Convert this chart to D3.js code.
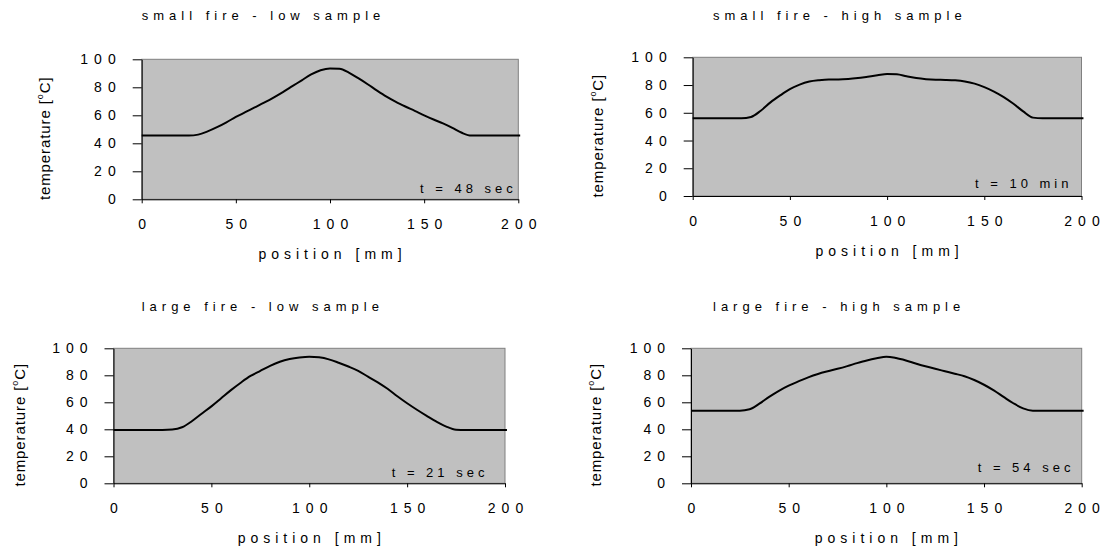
<!DOCTYPE html>
<html>
<head>
<meta charset="utf-8">
<script src="https://cdn.jsdelivr.net/npm/d3@7"></script>
<style>
    body { margin: 0; background: #fff; }
    svg text { font-family: Arial, "Liberation Sans", sans-serif; fill: #000; }
</style>
</head>
<body>
<svg id="chart" width="1101" height="552"></svg>
<script>
// positions along the sample [mm]
var positions = [0, 5, 10, 15, 20, 25, 30, 35, 40, 45, 50, 55, 60, 65, 70, 75, 80, 85, 90, 95, 100,
    105, 110, 115, 120, 125, 130, 135, 140, 145, 150, 155, 160, 165, 170, 175, 180, 185, 190, 195, 200, 201];

// temperatures [C], one value per position
var smallFireLow = [45.5, 45.5, 45.5, 45.5, 45.5, 45.5, 46.2, 48.5, 51.5, 55, 58.8, 62.2, 65.6, 69, 72.6, 76.6, 80.8, 85, 89.2, 92.2, 93.5,
    93.2, 90.5, 86.5, 82.2, 77.6, 73.3, 69.6, 66.3, 63.2, 60, 57, 54.2, 51, 47.5, 45.5, 45.5, 45.5, 45.5, 45.5, 45.5, 45.5];
var smallFireHigh = [56, 56, 56, 56, 56, 56, 57, 61.5, 67.5, 72.5, 77, 80.3, 82.5, 83.5, 84, 84, 84.3, 85, 86, 87, 88,
    87.7, 86.3, 85, 84.2, 83.8, 83.7, 83.4, 82.6, 81, 78.5, 75.3, 71.3, 66.5, 61, 56.5, 56, 56, 56, 56, 56, 56];
var largeFireLow = [39.5, 39.5, 39.5, 39.5, 39.5, 39.5, 39.8, 41.5, 46, 51.5, 57, 63, 69, 74.5, 79.5, 83.3, 87, 90, 92, 93.2, 93.8,
    93.3, 91.8, 89.3, 86.5, 83.3, 79, 74.8, 70, 64.5, 59.3, 54.5, 50, 45.7, 42, 39.7, 39.5, 39.5, 39.5, 39.5, 39.5, 39.5];
var largeFireHigh = [53.8, 53.8, 53.8, 53.8, 53.8, 53.8, 54.8, 59, 64, 68.5, 72.3, 75.5, 78.5, 81, 83, 84.8, 86.8, 89, 91, 92.6, 93.8,
    92.8, 91, 88.8, 86.7, 84.8, 83, 81.2, 79.3, 76.5, 73, 68.8, 64, 59.3, 55.5, 53.8, 53.8, 53.8, 53.8, 53.8, 53.8, 53.8];

var titles = ["small fire - low sample", "small fire - high sample", "large fire - low sample", "large fire - high sample"];
var timeLabels = ["t = 48 sec", "t = 10 min", "t = 21 sec", "t = 54 sec"];
var xTicks = [0, 50, 100, 150, 200];
var yTicks = [0, 20, 40, 60, 80, 100];

// layout of each panel (pixels)
var panels = [
    { title: titles[0], values: smallFireLow, time: timeLabels[0], left: 141.7, right: 518.3, top: 59.3, bottom: 199.3, titleX: 141.7, titleY: 20, labelX: 50, timeX: 420, timeY: 193 },
    { title: titles[1], values: smallFireHigh, time: timeLabels[1], left: 692.7, right: 1081.5, top: 57.3, bottom: 196, titleX: 713, titleY: 20, labelX: 603, timeX: 975, timeY: 188.3 },
    { title: titles[2], values: largeFireLow, time: timeLabels[2], left: 113.5, right: 505, top: 348.3, bottom: 483.3, titleX: 141.7, titleY: 311, labelX: 25, timeX: 391.7, timeY: 476.7 },
    { title: titles[3], values: largeFireHigh, time: timeLabels[3], left: 691, right: 1081.7, top: 348.3, bottom: 483.3, titleX: 713, titleY: 311, labelX: 601, timeX: 977.7, timeY: 471.7 }
];

var svg = d3.select("#chart");

// spread the letters like the original, but keep no gap after the last one
function spaced(textSel, ls) {
    textSel.each(function () {
        var t = d3.select(this);
        var s = t.text();
        t.text(null);
        t.append("tspan").attr("letter-spacing", ls).text(s.slice(0, -1));
        t.append("tspan").attr("letter-spacing", 0).text(s.slice(-1));
    });
}

function drawPanel(p) {
    var x = d3.scaleLinear().domain([0, 200]).range([p.left, p.right]);
    var y = d3.scaleLinear().domain([0, 100]).range([p.bottom, p.top]);
    var g = svg.append("g");

    // grey plot area, Excel style
    g.append("rect").attr("x", p.left).attr("y", p.top)
        .attr("width", p.right - p.left).attr("height", p.bottom - p.top)
        .attr("fill", "#c0c0c0").attr("stroke", "#808080").attr("stroke-width", 1);

    var line = d3.line().x(function (d, i) {
        return x(positions[i]);
    }).y(function (d) {
        return y(d);
    }).curve(d3.curveMonotoneX);
    g.append("path").datum(p.values).attr("d", line)
        .attr("fill", "none").attr("stroke", "#000").attr("stroke-width", 2);

    var yAxis = d3.axisLeft(y).tickValues(yTicks).tickSize(9).tickSizeOuter(0).tickPadding(17);
    var yg = g.append("g").attr("transform", "translate(" + p.left + ",0)").call(yAxis);
    var xAxis = d3.axisBottom(x).tickValues(xTicks).tickSize(4).tickSizeOuter(0).tickPadding(16);
    var xg = g.append("g").attr("transform", "translate(0," + p.bottom + ")").call(xAxis);
    [yg, xg].forEach(function (a) {
        a.select(".domain").attr("stroke", "#000");
        a.selectAll(".tick line").attr("stroke", "#000");
        a.selectAll("text").attr("font-size", 14).attr("font-family", null).attr("fill", "#000")
            .call(spaced, 6);
    });

    g.append("text").attr("x", p.titleX).attr("y", p.titleY)
        .attr("font-size", 13).text(p.title).call(spaced, 5);

    g.append("text").attr("x", (p.left + p.right) / 2).attr("y", p.bottom + 60)
        .attr("text-anchor", "middle").attr("font-size", 14)
        .text("position [mm]").call(spaced, 5);

    g.append("text").attr("x", p.timeX).attr("y", p.timeY)
        .attr("font-size", 13).text(p.time).call(spaced, 4);

    var yl = g.append("text")
        .attr("transform", "translate(" + p.labelX + "," + ((p.top + p.bottom) / 2 + 9) + ") rotate(-90)")
        .attr("text-anchor", "middle").attr("font-size", 15).attr("letter-spacing", 0.9);
    yl.append("tspan").text("temperature [");
    yl.append("tspan").attr("font-size", 9).attr("dy", -7).text("o");
    yl.append("tspan").attr("dy", 7).text("C]");
}

panels.forEach(drawPanel);
</script>
</body>
</html>
